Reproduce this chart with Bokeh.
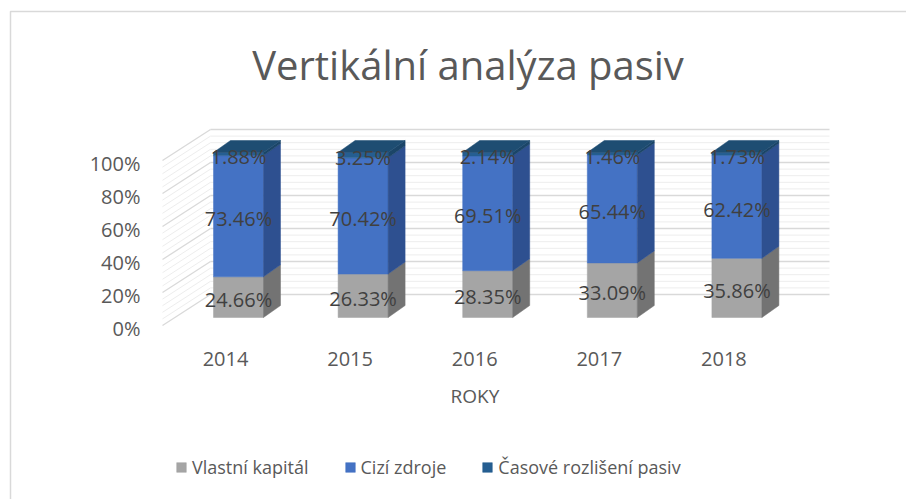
from bokeh.plotting import figure
from bokeh.models import Range1d, Legend, LegendItem, ColumnDataSource
from bokeh.core.properties import value
from bokeh.embed import file_html
from bokeh.resources import INLINE

# ---- data ----
years = ["2014", "2015", "2016", "2017", "2018"]
vlastni_kapital = [24.66, 26.33, 28.35, 33.09, 35.86]
cizi_zdroje = [73.46, 70.42, 69.51, 65.44, 62.42]
casove_rozliseni = [1.88, 3.25, 2.14, 1.46, 1.73]
series_names = ["Vlastní kapitál", "Cizí zdroje", "Časové rozlišení pasiv"]
y_ticks = [0, 20, 40, 60, 80, 100]
y_tick_labels = ["0%", "20%", "40%", "60%", "80%", "100%"]
title_text = "Vertikální analýza pasiv"
x_title = "ROKY"

# ---- styling / layout constants (pixels) ----
W, H = 906, 499
PAGE_OFF = 0
SX = 124.6       # px per category
SY = 1.65        # px per percent
X0 = 238.0       # page x of first category centre (bar front)
Y0 = 317.0       # page y of 0% on bar front

def X(page_x):
    return (page_x - X0) / SX

def Y(page_y):
    return (Y0 - page_y) / SY

front_cols = ["#A5A5A5", "#4472C4", "#255E91"]
side_cols = ["#737373", "#2E5090", "#1B4568"]
top_col = "#1E4D72"
FONT = value("Open Sans")

p = figure(width=W, height=H, x_range=Range1d(X(PAGE_OFF), X(PAGE_OFF + W)),
           y_range=Range1d(Y(PAGE_OFF + H), Y(PAGE_OFF)),
           x_axis_type=None, y_axis_type=None, output_backend="svg",
           toolbar_location=None, min_border=0)
p.grid.visible = False
p.outline_line_color = None
p.background_fill_color = "white"
p.border_fill_color = "white"

# chart area border (right/bottom edges fall outside the window)
p.line([X(10), X(10), X(1200)], [Y(900), Y(11), Y(11)], line_color="#D9D9D9", line_width=1.5)

# ---- walls / gridlines ----
front_left = X(162)
back_left = X(210)
back_right = X(829)
front_dy = -8 / SY
back_dy = 23 / SY
for v in range(0, 101, 4):
    major = v % 20 == 0
    col = "#D9D9D9" if major else "#EDEDED"
    lw = 1.3 if major else 1
    p.line([back_left, back_right], [v + back_dy, v + back_dy], line_color=col, line_width=lw)
    p.line([front_left, back_left], [v + front_dy, v + back_dy], line_color=col, line_width=lw)

# ---- bars ----
hw = 25 / SX
ddx = 17 / SX
ddy = 12 / SY
xs = list(range(len(years)))
series = [vlastni_kapital, cizi_zdroje, casove_rozliseni]
bottoms = [0.0] * len(years)
legend_items = []
label_x, label_y, label_t = [], [], []
for s_idx, vals in enumerate(series):
    tops = [b + v for b, v in zip(bottoms, vals)]
    src = ColumnDataSource(dict(left=[x - hw for x in xs], right=[x + hw for x in xs],
                                bottom=list(bottoms), top=tops))
    r = p.quad(left="left", right="right", bottom="bottom", top="top", source=src,
               fill_color=front_cols[s_idx], line_color=front_cols[s_idx], line_width=0.5)
    legend_items.append(LegendItem(label=series_names[s_idx], renderers=[r]))
    side_x = [[x + hw, x + hw + ddx, x + hw + ddx, x + hw] for x in xs]
    side_y = [[b, b + ddy, t + ddy, t] for b, t in zip(bottoms, tops)]
    p.patches(side_x, side_y, fill_color=side_cols[s_idx], line_color=side_cols[s_idx], line_width=0.5)
    for x, b, t, v in zip(xs, bottoms, tops, vals):
        label_x.append(x)
        label_y.append((b + t) / 2 - 2.5 / SY)
        label_t.append(f"{v:.2f}%")
    bottoms = tops

# top faces
top_x = [[x - hw, x + hw, x + hw + ddx, x - hw + ddx] for x in xs]
top_y = [[t, t, t + ddy, t + ddy] for t in bottoms]
p.patches(top_x, top_y, fill_color=top_col, line_color=top_col, line_width=0.5)

# data labels
p.text(label_x, label_y, text=label_t, text_font=FONT, text_font_size="20px",
       text_color="#404040", text_align="center", text_baseline="middle")

# y tick labels
p.text([X(140)] * len(y_ticks), [v - 11 / SY for v in y_ticks], text=y_tick_labels,
       text_font=FONT, text_font_size="20px", text_color="#595959",
       text_align="right", text_baseline="middle")

# category labels
p.text([x - 13 / SX for x in xs], [-41 / SY] * len(xs), text=years,
       text_font=FONT, text_font_size="20px", text_color="#595959",
       text_align="center", text_baseline="middle")

# axis title
p.text([X(474.5)], [Y(395)], text=[x_title], text_font=FONT, text_font_size="19px",
       text_color="#595959", text_align="center", text_baseline="middle")

# chart title
p.text([X(467.5)], [Y(64)], text=[title_text], text_font=FONT, text_font_size="40px",
       text_color="#595959", text_align="center", text_baseline="middle")

legend = Legend(items=legend_items, orientation="horizontal", location=(175, 20),
                glyph_width=12, glyph_height=12, label_standoff=5, spacing=35,
                padding=0, margin=0, border_line_color=None, background_fill_alpha=0,
                label_text_font="Open Sans", label_text_font_size="18px",
                label_text_color="#595959")
p.add_layout(legend)

open("out.html", "w").write(file_html(p, INLINE))
